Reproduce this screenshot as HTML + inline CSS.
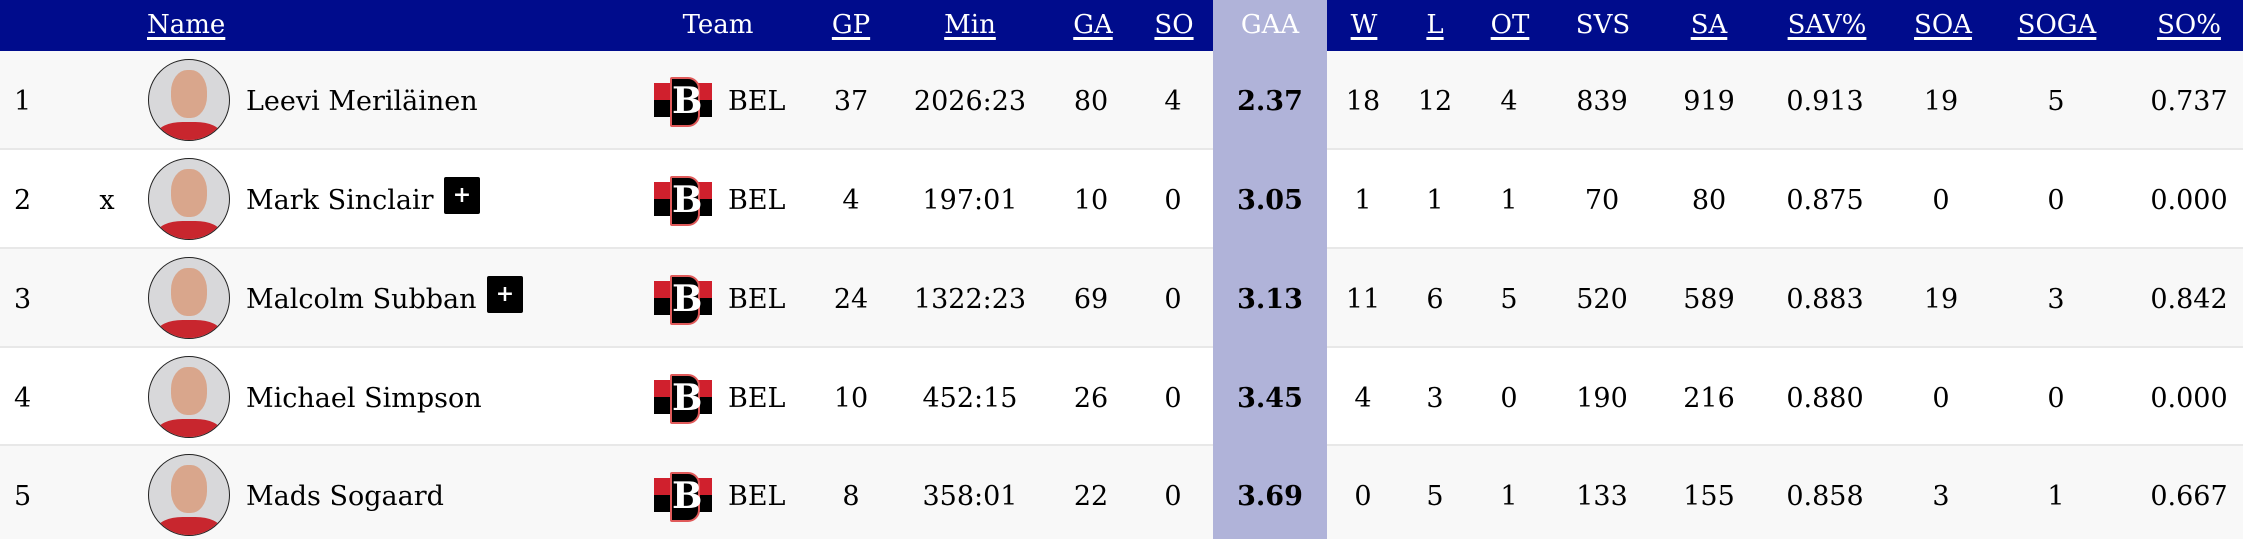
<!DOCTYPE html>
<html><head><meta charset="utf-8"><style>
body{margin:0;width:2243px;height:539px;overflow:hidden;background:#fff;font-family:"DejaVu Serif","Liberation Serif",serif;}
.hdr{position:absolute;left:0;top:0;width:2243px;height:51px;background:#000c8c;}
.row{position:absolute;left:0;width:2243px;border-bottom:2px solid #e8e8e8;box-sizing:border-box;}
.gaa{position:absolute;left:1213px;width:114px;top:0;height:539px;background:#b0b3d9;}
.t{position:absolute;font-size:27px;color:#000;white-space:nowrap;transform:translateX(-50%);line-height:32px;}
.h{position:absolute;font-size:26px;color:#fff;white-space:nowrap;transform:translateX(-50%);top:10px;line-height:30px;}
.u{text-decoration:underline;text-decoration-thickness:3px;text-underline-offset:4px;}
.l{transform:none;}
.ph{position:absolute;left:148px;width:80px;height:80px;border:1px solid #222;border-radius:50%;background:#d8d8da;overflow:hidden;}
.ph::before{content:"";position:absolute;left:22px;top:10px;width:36px;height:48px;border-radius:45%;background:#d9a68c;}
.ph::after{content:"";position:absolute;left:8px;top:62px;width:64px;height:30px;border-radius:40%;background:#c8262e;}
.logo{position:absolute;left:654px;width:58px;height:34px;}
.logo .r{position:absolute;left:0;top:0;width:58px;height:17px;background:#d0202d;}
.logo .k{position:absolute;left:0;top:17px;width:58px;height:17px;background:#000;}
.logo .b{position:absolute;left:16px;top:-6px;width:26px;height:46px;background:#000;border:2px solid #e05a5a;border-radius:2px 12px 12px 2px;color:#fff;font-size:36px;line-height:44px;text-align:center;font-weight:bold;}
.plus{position:absolute;width:36px;height:37px;background:#000;border-radius:2px;color:#fff;font-size:22px;font-weight:bold;text-align:center;line-height:37px;}
</style></head><body>
<div class="hdr"></div>
<div class="row" style="top:51px;height:99px;background:#f8f8f8"></div>
<div class="row" style="top:150px;height:99px;background:#fff"></div>
<div class="row" style="top:249px;height:99px;background:#f8f8f8"></div>
<div class="row" style="top:348px;height:98px;background:#fff"></div>
<div class="row" style="top:446px;height:93px;background:#f8f8f8;border:none"></div>
<div class="gaa"></div>

<div class="h u l" style="left:147px">Name</div>
<div class="h" style="left:718px">Team</div>
<div class="h u" style="left:851px">GP</div>
<div class="h u" style="left:970px">Min</div>
<div class="h u" style="left:1093px">GA</div>
<div class="h u" style="left:1174px">SO</div>
<div class="h" style="left:1270px">GAA</div>
<div class="h u" style="left:1364px">W</div>
<div class="h u" style="left:1435px">L</div>
<div class="h u" style="left:1510px">OT</div>
<div class="h" style="left:1603px">SVS</div>
<div class="h u" style="left:1709px">SA</div>
<div class="h u" style="left:1827px">SAV%</div>
<div class="h u" style="left:1943px">SOA</div>
<div class="h u" style="left:2057px">SOGA</div>
<div class="h u" style="left:2189px">SO%</div>

<div id="rows"></div>
<script>
var d=[
["1","","Leevi Meriläinen",0,"37","2026:23","80","4","2.37","18","12","4","839","919","0.913","19","5","0.737"],
["2","x","Mark Sinclair",1,"4","197:01","10","0","3.05","1","1","1","70","80","0.875","0","0","0.000"],
["3","","Malcolm Subban",1,"24","1322:23","69","0","3.13","11","6","5","520","589","0.883","19","3","0.842"],
["4","","Michael Simpson",0,"10","452:15","26","0","3.45","4","3","0","190","216","0.880","0","0","0.000"],
["5","","Mads Sogaard",0,"8","358:01","22","0","3.69","0","5","1","133","155","0.858","3","1","0.667"]];
var tops=[51,150,249,348,446],xs=[851,970,1091,1173,1270,1363,1435,1509,1602,1709,1825,1941,2056,2189];
var h="";
d.forEach(function(r,i){var c=tops[i]+49,ty=c-14;
h+='<div class="t l" style="left:14px;top:'+ty+'px">'+r[0]+'</div>';
if(r[1])h+='<div class="t" style="left:107px;top:'+ty+'px">'+r[1]+'</div>';
h+='<div class="ph" style="top:'+(c-41)+'px"></div>';
h+='<div class="t l" id="n'+i+'" style="left:246px;top:'+ty+'px">'+r[2]+'</div>';
h+='<div class="logo" style="top:'+(c-17)+'px"><div class="r"></div><div class="k"></div><div class="b">B</div></div>';
h+='<div class="t l" style="left:728px;top:'+ty+'px">BEL</div>';
for(var j=4;j<18;j++){h+='<div class="t" style="left:'+xs[j-4]+'px;top:'+ty+'px;'+(j==8?'font-weight:bold':'')+'">'+r[j]+'</div>';}
});
document.getElementById("rows").innerHTML=h;
d.forEach(function(r,i){if(r[3]){var n=document.getElementById("n"+i);var x=246+n.offsetWidth+10;var e=document.createElement("div");e.className="plus";e.textContent="+";e.style.left=x+"px";e.style.top=(tops[i]+27)+"px";document.body.appendChild(e);}});
</script>
</body></html>
